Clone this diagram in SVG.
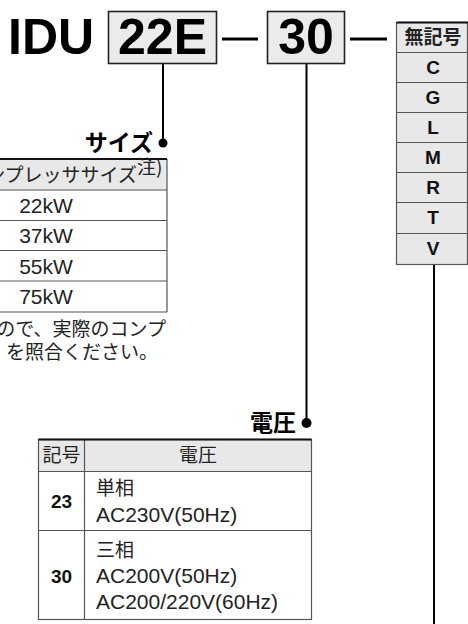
<svg xmlns="http://www.w3.org/2000/svg" width="468" height="624" viewBox="0 0 468 624">
<defs>
<style>
.big{font-family:"Liberation Sans","Noto Sans CJK JP",sans-serif;font-weight:bold;font-size:50px;fill:#000}
.box{fill:#ebebeb;stroke:#222;stroke-width:1.6}
.lbl{font-family:"Noto Sans CJK JP",sans-serif;font-weight:bold;font-size:23px;fill:#000}
.cjk{font-family:"Noto Sans CJK JP",sans-serif;font-size:19px;fill:#222}
.lat{font-family:"Liberation Sans","Noto Sans CJK JP",sans-serif;font-size:21px;fill:#222}
.bold{font-family:"Liberation Sans","Noto Sans CJK JP",sans-serif;font-weight:bold;font-size:19px;fill:#111}
.hdr{fill:#e8e8e8}
.cell{fill:#fff}
.grid{stroke:#555;stroke-width:1.2;fill:none}
.thick{stroke:#111;stroke-width:2.2}
.conn{stroke:#000;stroke-width:2;fill:none}
.dash{stroke:#000;stroke-width:3}
.dot{fill:#000}
</style>
</defs>

<g id="title">
<text class="big" x="8" y="54">IDU</text>
</g>

<g id="box-22e">
<rect class="box" x="108.5" y="11.5" width="108" height="52"/>
<text class="big" x="162.5" y="54" text-anchor="middle">22E</text>
</g>

<g id="box-30">
<rect class="box" x="267.5" y="11.5" width="77" height="52"/>
<text class="big" x="306" y="54" text-anchor="middle">30</text>
</g>

<g id="table-options">
<rect x="396.5" y="22.5" width="71" height="242" class="hdr" stroke="#555" stroke-width="1.2"/>
<g class="grid">
<line x1="396.5" y1="52.5" x2="468" y2="52.5"/>
<line x1="396.5" y1="82.5" x2="468" y2="82.5"/>
<line x1="396.5" y1="112.5" x2="468" y2="112.5"/>
<line x1="396.5" y1="142.5" x2="468" y2="142.5"/>
<line x1="396.5" y1="172.5" x2="468" y2="172.5"/>
<line x1="396.5" y1="202.5" x2="468" y2="202.5"/>
<line x1="396.5" y1="233.5" x2="468" y2="233.5"/>
</g>
<line x1="396.5" y1="22.5" x2="468" y2="22.5" class="thick"/>
<text class="cjk" x="433" y="44" text-anchor="middle" font-weight="bold" fill="#111">無記号</text>
<text class="bold" x="433" y="74" text-anchor="middle">C</text>
<text class="bold" x="433" y="104" text-anchor="middle">G</text>
<text class="bold" x="433" y="134" text-anchor="middle">L</text>
<text class="bold" x="433" y="164" text-anchor="middle">M</text>
<text class="bold" x="433" y="194" text-anchor="middle">R</text>
<text class="bold" x="433" y="224" text-anchor="middle">T</text>
<text class="bold" x="433" y="255" text-anchor="middle">V</text>
</g>

<g id="label-size">
<text class="lbl" x="153" y="151" text-anchor="end">サイズ</text>
</g>

<g id="table-size">
<rect x="-2" y="159" width="169" height="31" class="hdr"/>
<rect x="-2" y="190" width="169" height="122" class="cell"/>
<g class="grid">
<line x1="-2" y1="190" x2="167" y2="190"/>
<line x1="-2" y1="220.5" x2="167" y2="220.5"/>
<line x1="-2" y1="250.5" x2="167" y2="250.5"/>
<line x1="-2" y1="281" x2="167" y2="281"/>
<line x1="-2" y1="312" x2="167" y2="312"/>
<line x1="167" y1="159" x2="167" y2="312"/>
</g>
<line x1="-2" y1="159" x2="167" y2="159" class="thick"/>
<text class="cjk" x="137" y="182" text-anchor="end" font-size="17.5">コンプレッササイズ</text>
<text class="cjk" x="137" y="174" font-size="11">注)</text>
<text class="lat" x="46" y="213" text-anchor="middle">22kW</text>
<text class="lat" x="46" y="243" text-anchor="middle">37kW</text>
<text class="lat" x="46" y="273.5" text-anchor="middle">55kW</text>
<text class="lat" x="46" y="304" text-anchor="middle">75kW</text>
</g>

<g id="note">
<text class="cjk" x="166" y="336" text-anchor="end" font-size="19.5">ので、実際のコンプ</text>
<text class="cjk" x="158" y="359" text-anchor="end" font-size="19.5">を照合ください。</text>
</g>

<g id="label-voltage">
<text class="lbl" x="296" y="431" text-anchor="end">電圧</text>
</g>

<g id="table-voltage">
<rect x="38.5" y="439.5" width="273" height="32" class="hdr"/>
<rect x="38.5" y="471.5" width="273" height="148" class="cell"/>
<g class="grid">
<rect x="38.5" y="439.5" width="273" height="180"/>
<line x1="38.5" y1="471.5" x2="311.5" y2="471.5"/>
<line x1="38.5" y1="530.5" x2="311.5" y2="530.5"/>
<line x1="84.5" y1="439.5" x2="84.5" y2="619.5"/>
</g>
<line x1="38.5" y1="439.5" x2="311.5" y2="439.5" class="thick"/>
<text class="cjk" x="61.5" y="462" text-anchor="middle">記号</text>
<text class="cjk" x="198" y="462" text-anchor="middle">電圧</text>
<text class="bold" x="61.5" y="508" text-anchor="middle" font-size="21">23</text>
<text class="bold" x="61.5" y="583" text-anchor="middle" font-size="21">30</text>
<text class="cjk" x="96" y="495" font-size="19.5">単相</text>
<text class="lat" x="96" y="522">AC230V(50Hz)</text>
<text class="cjk" x="96" y="557" font-size="19.5">三相</text>
<text class="lat" x="96" y="583">AC200V(50Hz)</text>
<text class="lat" x="96" y="609">AC200/220V(60Hz)</text>
</g>

<g id="connectors">
<line class="dash" x1="222" y1="39" x2="258" y2="39"/>
<line class="dash" x1="350" y1="39" x2="387" y2="39"/>
<line class="conn" x1="163" y1="64" x2="163" y2="143"/>
<circle class="dot" cx="163" cy="143" r="4.5"/>
<line class="conn" x1="306.5" y1="64" x2="306.5" y2="423"/>
<circle class="dot" cx="306.5" cy="423" r="5"/>
<line class="conn" x1="434" y1="265" x2="434" y2="624"/>
</g>
</svg>
